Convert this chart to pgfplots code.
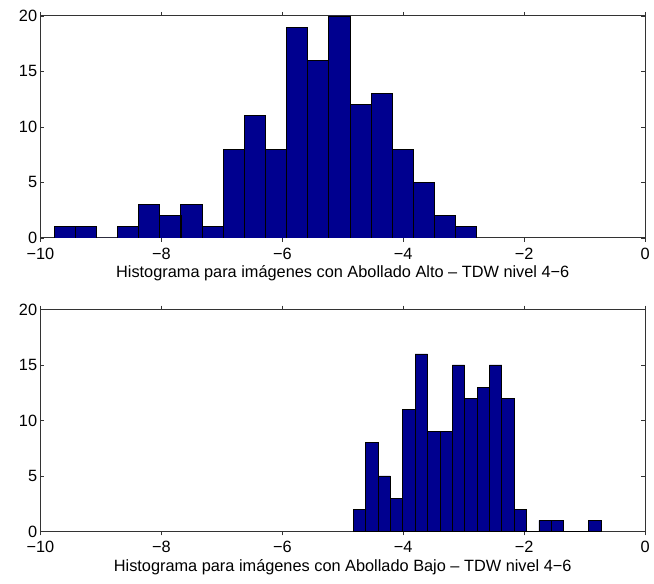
\documentclass[border=0pt]{standalone}
\usepackage{pgfplots}
\pgfplotsset{compat=1.18}
\usepackage{fontspec}
\setmainfont{Liberation Sans}
\definecolor{matnavy}{RGB}{0,0,143}

% 20 bins each, values are counts
\pgfplotstableread{
x count
-9.601 1
-9.252 1
-8.902 0
-8.553 1
-8.203 3
-7.853 2
-7.504 3
-7.154 1
-6.805 8
-6.455 11
-6.105 8
-5.756 19
-5.406 16
-5.057 20
-4.707 12
-4.357 13
-4.008 8
-3.658 5
-3.309 2
-2.959 1
}\altotable
\pgfplotstableread{
x count
-4.7246 2
-4.5198 8
-4.3150 5
-4.1102 3
-3.9054 11
-3.7006 16
-3.4958 9
-3.2910 9
-3.0862 15
-2.8814 12
-2.6766 13
-2.4718 15
-2.2670 12
-2.0622 2
-1.8574 0
-1.6526 1
-1.4478 1
-1.2430 0
-1.0382 0
-0.8334 1
}\bajotable

\pgfplotsset{
  histo/.style={
    width=455.5pt, height=167.2pt, scale only axis,
    xmin=-10, xmax=0, ymin=0, ymax=20,
    xtick={-10,-8,...,0},
    xticklabels={−10,−8,−6,−4,−2,0},
    ytick={0,5,10,15,20},
    tick align=inside,
    major tick length=3pt,
    axis line style={line width=0.8pt, black!80},
    tick style={black!80},
    font=\fontsize{12.3}{14}\selectfont,
    /pgf/number format/assume math mode=true,
    xticklabel style={yshift=-1pt},
    yticklabel style={xshift=1pt},
    xlabel style={yshift=2pt},
    ybar, bar shift=0pt,
  },
}

\begin{document}
\begin{tikzpicture}
% white margin of the original figure
\path (-30.5pt,12pt) rectangle (460pt,-427.6pt);
\begin{axis}[histo, at={(0,0)}, anchor=north west,
  bar width=0.3496,
  xlabel={Histograma para imágenes con Abollado Alto – TDW nivel 4−6}]
  \addplot[fill=matnavy, draw=black, line width=0.5pt] table[x=x, y=count] {\altotable};
\end{axis}
\begin{axis}[histo, at={(0,-221.2pt)}, anchor=north west,
  bar width=0.2048,
  xlabel={Histograma para imágenes con Abollado Bajo – TDW nivel 4−6}]
  \addplot[fill=matnavy, draw=black, line width=0.5pt] table[x=x, y=count] {\bajotable};
\end{axis}
\end{tikzpicture}
\end{document}
